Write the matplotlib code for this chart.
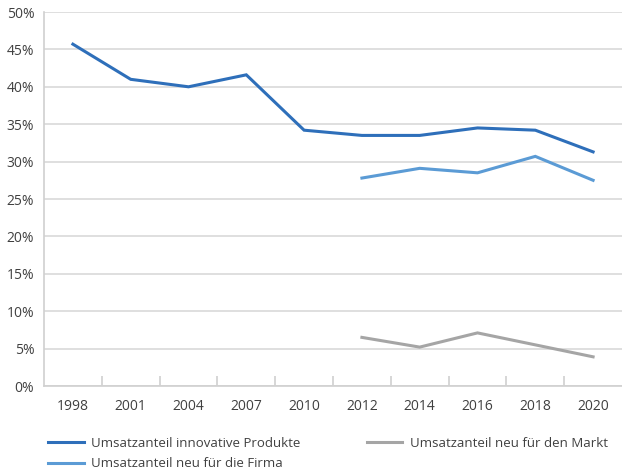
import matplotlib
matplotlib.use("Agg")
import matplotlib.pyplot as plt
from matplotlib.ticker import FuncFormatter

plt.rcParams['font.family'] = ['Open Sans', 'DejaVu Sans']

years = ['1998', '2001', '2004', '2007', '2010', '2012', '2014', '2016', '2018', '2020']
innovativ = [45.7, 41.0, 40.0, 41.6, 34.2, 33.5, 33.5, 34.5, 34.2, 31.3]
neu_firma = [None, None, None, None, None, 27.8, 29.1, 28.5, 30.7, 27.5]
neu_markt = [None, None, None, None, None, 6.5, 5.2, 7.1, 5.5, 3.9]

labels = ['Umsatzanteil innovative Produkte', 'Umsatzanteil neu für die Firma',
          'Umsatzanteil neu für den Markt']
colors = ['#2e6fba', '#5b9bd5', '#a5a5a5']

fig = plt.figure(figsize=(6.22, 4.73), dpi=100)
ax = fig.add_axes([44/622, 1 - 386/473, (622 - 44)/622, (386 - 12)/473])

x = list(range(len(years)))
def pts(vals):
	xs = [i for i, v in zip(x, vals) if v is not None]
	ys = [v for v in vals if v is not None]
	return xs, ys

handles = []
for vals, lab, col in zip([innovativ, neu_firma, neu_markt], labels, colors):
	xs, ys = pts(vals)
	h, = ax.plot(xs, ys, color=col, lw=2.2, label=lab, solid_joinstyle='miter')
	handles.append(h)

ax.set_xlim(-0.5, len(years) - 0.5)
ax.set_ylim(0, 50)
ax.set_yticks(range(0, 51, 5))
ax.yaxis.set_major_formatter(FuncFormatter(lambda v, p: '%d%%' % v))
ax.grid(axis='y', color='#d9d9d9', lw=1.2)
ax.set_axisbelow(True)

ax.set_xticks(x)
ax.set_xticklabels(years)
ax.set_xticks([i + 0.5 for i in x[:-1]], minor=True)
ax.tick_params(axis='x', which='major', length=0, pad=9, labelsize=10, labelcolor='#404040')
ax.tick_params(axis='x', which='minor', length=7, direction='in', color='#d0d0d0', width=1.2)
ax.tick_params(axis='y', length=0, pad=7, labelsize=10, labelcolor='#404040')

for s in ['top', 'right']:
	ax.spines[s].set_visible(False)
for s in ['left', 'bottom']:
	ax.spines[s].set_color('#d0d0d0')
	ax.spines[s].set_linewidth(1.2)

fig.legend(handles=handles, loc='upper left', bbox_to_anchor=(36/622, 1 - 425/473),
	ncol=2, frameon=False, fontsize=9.5, handlelength=2.7, handletextpad=0.6,
	columnspacing=5.0, labelspacing=0.55, labelcolor='#404040')

fig.savefig('out.png', dpi=100)
